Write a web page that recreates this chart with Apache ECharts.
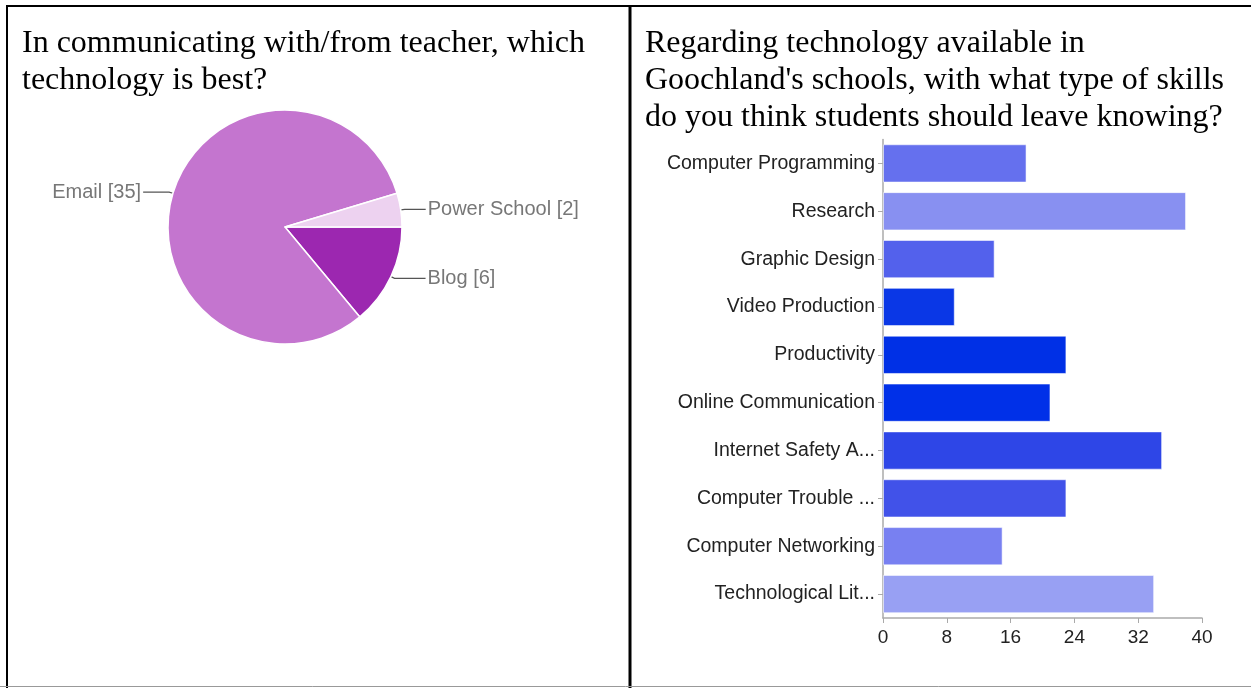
<!DOCTYPE html>
<html>
<head>
<meta charset="utf-8">
<script src="https://cdn.jsdelivr.net/npm/echarts@6/dist/echarts.min.js"></script>
<style>
html,body{margin:0;padding:0;background:#fff;}
#chart{width:1251px;height:688px;}
</style>
</head>
<body>
<div id="chart"></div>
<script>
// ---- Data ----
const pieTitle = "In communicating with/from teacher, which\ntechnology is best?";
const pieNames = ["Blog", "Email", "Power School"];
const pieValues = [6, 35, 2];
const pieColors = ["#9c27b0", "#c475cf", "#edd2f0"];

const barTitle = "Regarding technology available in\nGoochland's schools, with what type of skills\ndo you think students should leave knowing?";
const barCategories = [
  "Computer Programming",
  "Research",
  "Graphic Design",
  "Video Production",
  "Productivity",
  "Online Communication",
  "Internet Safety A...",
  "Computer Trouble ...",
  "Computer Networking",
  "Technological Lit..."
];
const barValues = [18, 38, 14, 9, 23, 21, 35, 23, 15, 34];
const barColors = ["#6570ee", "#8890f1", "#5361ec", "#0a37e6", "#0030e6", "#0030e8", "#2e46e7", "#4152e9", "#7880f1", "#98a0f3"];
const xTicks = [0, 8, 16, 24, 32, 40];

// ---- Chart ----
const chart = echarts.init(document.getElementById('chart'), null, {renderer: 'canvas'});
const sans = 'Liberation Sans, Arial, sans-serif';
const serif = 'Liberation Serif, Times New Roman, serif';
const pieLineLen2 = [31, 26, 21];

const option = {
  backgroundColor: '#ffffff',
  animation: false,
  graphic: [
    {type: 'line', shape: {x1: 6, y1: 6, x2: 1251, y2: 6}, style: {stroke: '#000', lineWidth: 2}},
    {type: 'line', shape: {x1: 7, y1: 5, x2: 7, y2: 688}, style: {stroke: '#000', lineWidth: 2}},
    {type: 'line', shape: {x1: 630, y1: 5, x2: 630, y2: 688}, style: {stroke: '#000', lineWidth: 3}},
    {type: 'line', shape: {x1: 0, y1: 686.5, x2: 1251, y2: 686.5}, style: {stroke: '#999', lineWidth: 1}},
    {type: 'text', left: 22, top: 25, style: {text: pieTitle, font: '32px ' + serif, fill: '#000', lineHeight: 37}},
    {type: 'text', left: 645, top: 25, style: {text: barTitle, font: '32px ' + serif, fill: '#000', lineHeight: 37}}
  ],
  grid: {left: 883, right: 49, top: 139.5, bottom: 70, containLabel: false},
  xAxis: {
    type: 'value', min: xTicks[0], max: xTicks[xTicks.length - 1], interval: xTicks[1] - xTicks[0],
    axisLine: {show: true, lineStyle: {color: '#aaa', width: 1.5}},
    axisTick: {show: true, length: 5, lineStyle: {color: '#aaa'}},
    splitLine: {show: false},
    axisLabel: {color: '#222', fontFamily: sans, fontSize: 19, margin: 10}
  },
  yAxis: {
    type: 'category', inverse: true, data: barCategories,
    axisLine: {show: true, lineStyle: {color: '#aaa', width: 1.5}},
    axisTick: {show: true, alignWithLabel: true, length: 5, lineStyle: {color: '#aaa'}},
    axisLabel: {color: '#222', fontFamily: sans, fontSize: 19.5, margin: 8}
  },
  series: [
    {
      type: 'bar',
      data: barValues.map((v, i) => ({value: v, itemStyle: {color: barColors[i]}})),
      barCategoryGap: '20%',
      itemStyle: {borderColor: 'rgba(255,255,255,0.55)', borderWidth: 1}
    },
    {
      type: 'pie',
      center: [285, 227],
      radius: 117,
      startAngle: 0,
      clockwise: true,
      data: pieNames.map((n, i) => ({
        name: n, value: pieValues[i],
        itemStyle: {color: pieColors[i]},
        labelLine: {length2: pieLineLen2[i]}
      })),
      itemStyle: {borderColor: '#fff', borderWidth: 1.5},
      label: {formatter: '{b} [{c}]', color: '#777', fontFamily: sans, fontSize: 20, distanceToLabelLine: 2},
      labelLine: {length: 4, length2: 24, lineStyle: {color: '#555', width: 1.2}}
    }
  ]
};
chart.setOption(option);
</script>
</body>
</html>
